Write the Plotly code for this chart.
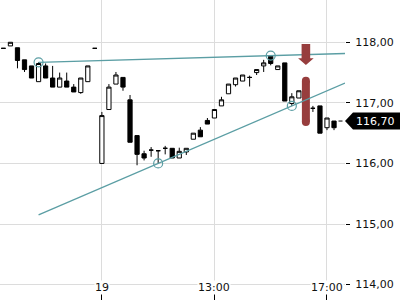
import plotly.graph_objects as go

# ---------------- data ----------------
idx = list(range(48))
opens = [117.90, 117.94, 117.91, 117.71, 117.61, 117.35, 117.61, 117.41, 117.26, 117.36,
         117.26, 117.17, 117.35, 117.90, 116.00, 116.89, 117.31, 117.42, 117.05, 116.46,
         116.16, 116.22, 116.21, 116.25, 116.25, 116.09, 116.19, 116.40, 116.55, 116.71,
         116.75, 116.95, 117.15, 117.30, 117.36, 117.42, 117.50, 117.61, 117.77, 117.55,
         117.66, 116.99, 117.08, 117.20, 116.91, 116.95, 116.59, 116.70]
highs = [117.90, 118.00, 117.91, 117.71, 117.61, 117.67, 117.65, 117.61, 117.50, 117.50,
         117.31, 117.41, 117.61, 117.90, 116.85, 117.31, 117.51, 117.42, 117.13, 116.46,
         116.21, 116.27, 116.21, 116.29, 116.25, 116.26, 116.25, 116.50, 116.60, 116.75,
         116.89, 117.10, 117.31, 117.41, 117.46, 117.45, 117.55, 117.71, 117.78, 117.61,
         117.66, 117.16, 117.20, 117.20, 116.95, 116.95, 116.75, 116.70]
lows = [117.90, 117.94, 117.57, 117.51, 117.41, 117.35, 117.41, 117.26, 117.26, 117.26,
        117.18, 117.15, 117.35, 117.90, 116.00, 116.89, 117.31, 117.20, 116.35, 115.97,
        116.05, 116.11, 116.00, 116.15, 116.09, 116.09, 116.14, 116.40, 116.44, 116.65,
        116.75, 116.95, 117.15, 117.27, 117.36, 117.27, 117.46, 117.51, 117.62, 117.55,
        117.03, 116.95, 117.08, 116.85, 116.85, 116.50, 116.55, 116.55]
closes = [117.90, 118.00, 117.70, 117.55, 117.41, 117.65, 117.41, 117.26, 117.41, 117.26,
          117.18, 117.41, 117.61, 117.90, 116.79, 117.26, 117.46, 117.26, 116.35, 116.15,
          116.09, 116.22, 116.21, 116.25, 116.09, 116.20, 116.25, 116.50, 116.44, 116.65,
          116.89, 117.05, 117.31, 117.41, 117.46, 117.42, 117.55, 117.66, 117.65, 117.61,
          117.03, 117.10, 117.20, 116.94, 116.91, 116.50, 116.75, 116.59]

tick_idx = [14, 30, 46]
tick_text = ["19", "13:00", "17:00"]
y_ticks = [114, 115, 116, 117, 118]

# trend line anchors (index, price)
upper_pts_x = [5, 38]
upper_pts_y = [117.67, 117.78]
lower_pts_x = [22, 41]
lower_pts_y = [116.00, 116.95]
line_start_x = 5

signal_idx = 43
signal_bar = [117.43, 116.62]      # vertical highlight extent
arrow_prices = [117.97, 117.736, 117.625]  # shaft top, head base, tip

last_price = 116.70
last_label = "116,70"

# ---------------- layout constants ----------------
X_RANGE = [-0.483, 48.56]
Y_RANGE = [113.746, 118.698]
PX_PER_UNIT = 300 / (Y_RANGE[1] - Y_RANGE[0])
PX_PER_IDX = 345 / (X_RANGE[1] - X_RANGE[0])

TEAL = "#5b9ea4"
RED = "#973d3d"
FONT = "DejaVu Sans"

fig = go.Figure()

# red signal bar (behind candles)
cap = 4 / PX_PER_UNIT
fig.add_trace(go.Scatter(
    x=[signal_idx, signal_idx], y=[signal_bar[0] - cap, signal_bar[1] + cap],
    mode="lines+markers", line=dict(color=RED, width=8),
    marker=dict(size=8, color=RED, line=dict(width=0)),
    hoverinfo="skip", showlegend=False))

fig.add_trace(go.Candlestick(
    x=idx, open=opens, high=highs, low=lows, close=closes,
    increasing=dict(line=dict(color="#000000", width=1), fillcolor="#ffffff"),
    decreasing=dict(line=dict(color="#000000", width=1), fillcolor="#000000"),
    whiskerwidth=0, showlegend=False, hoverinfo="skip"))


def extend(px, py, x0, x1):
    s = (py[1] - py[0]) / (px[1] - px[0])
    return [x0, x1], [py[0] + s * (x0 - px[0]), py[0] + s * (x1 - px[0])]


for px_, py_ in [(upper_pts_x, upper_pts_y), (lower_pts_x, lower_pts_y)]:
    lx, ly = extend(px_, py_, line_start_x, X_RANGE[1])
    fig.add_trace(go.Scatter(x=lx, y=ly, mode="lines", line=dict(color=TEAL, width=1.3),
                             hoverinfo="skip", showlegend=False, cliponaxis=True))
    fig.add_trace(go.Scatter(x=px_, y=py_, mode="markers",
                             marker=dict(symbol="circle-open", size=9, color=TEAL, line=dict(width=1.2)),
                             hoverinfo="skip", showlegend=False))

# down arrow
sh = 4.3 / PX_PER_IDX
hh = 7.8 / PX_PER_IDX
a_top, a_base, a_tip = arrow_prices
s = signal_idx
arrow_path = (f"M {s-sh},{a_top} L {s+sh},{a_top} L {s+sh},{a_base} L {s+hh},{a_base} "
              f"L {s},{a_tip} L {s-hh},{a_base} L {s-sh},{a_base} Z")
shapes = [dict(type="path", xref="x", yref="y", path=arrow_path,
               fillcolor=RED, line=dict(width=0))]

# last price label
h = 8.5 / PX_PER_UNIT
xl0 = 1.0
xl1 = 353 / 345
xl2 = 400 / 345
lp = last_price
shapes.append(dict(type="path", xref="paper", yref="y",
                   path=f"M {xl0},{lp} L {xl1},{lp+h} L {xl2},{lp+h} L {xl2},{lp-h} L {xl1},{lp-h} Z",
                   fillcolor="#000000", line=dict(width=0)))
shapes.append(dict(type="line", xref="paper", yref="y", x0=338.5 / 345, x1=342.5 / 345,
                   y0=lp, y1=lp, line=dict(color="#000000", width=1)))

annotations = [dict(x=(356 + 394) / 2 / 345, y=lp, xref="paper", yref="y", text=last_label,
                    showarrow=False, font=dict(family=FONT, size=11, color="#ffffff"),
                    xanchor="center", yanchor="middle")]
for ti, tt in zip(tick_idx, tick_text):
    annotations.append(dict(x=ti, y=13 / 300, xref="x", yref="paper", text=tt, showarrow=False,
                            font=dict(family=FONT, size=11, color="#111111"),
                            bgcolor="#ffffff", borderpad=0, xanchor="center", yanchor="middle"))

fig.update_layout(
    width=400, height=300,
    margin=dict(l=0, r=55, t=0, b=0),
    paper_bgcolor="#ffffff", plot_bgcolor="#ffffff",
    separators=", ",
    showlegend=False,
    boxgap=0.4, boxgroupgap=0,
    shapes=shapes, annotations=annotations,
    font=dict(family=FONT, size=11, color="#111111"),
    xaxis=dict(range=X_RANGE, tickvals=tick_idx, showticklabels=False, ticks="inside",
               ticklen=6, tickcolor="#000000", showgrid=True, gridcolor="#dcdcdc", gridwidth=1,
               zeroline=False, showline=False, rangeslider=dict(visible=False), fixedrange=True),
    yaxis=dict(range=Y_RANGE, side="right", tickvals=y_ticks, tickformat=".2f",
               ticks="outside", ticklen=4, tickcolor="#000000", showgrid=True,
               gridcolor="#dcdcdc", gridwidth=1, zeroline=False, showline=False,
               ticklabelstandoff=3,
               tickfont=dict(family=FONT, size=11, color="#111111"), fixedrange=True),
)

fig.write_html("out.html")
